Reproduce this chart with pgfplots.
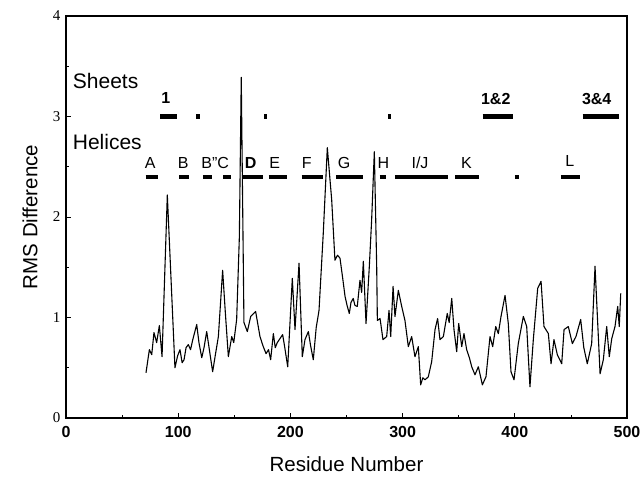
\documentclass[border=0pt]{standalone}
\usepackage{pgfplots}
\pgfplotsset{compat=1.18}
\usepackage{fontspec}
\setmainfont{Liberation Sans}
\newfontfamily\seriffont{Liberation Serif}
\begin{document}
\begin{tikzpicture}
\begin{axis}[
  scale only axis,
  width=561pt, height=402pt,
  xmin=0, xmax=500, ymin=0, ymax=4,
  axis line style={line width=1.2pt},
  xtick={0,100,200,300,400,500},
  xticklabels={0,100,200,300,400,500},
  ytick={0,1,2,3,4},
  yticklabels={0,1,2,3,4},
  minor x tick num=1, minor y tick num=1,
  tick align=inside,
  xtick pos=bottom, ytick pos=left,
  major tick length=5pt, minor tick length=3pt,
  tick style={line width=0.8pt, black},
  xticklabel style={font=\bfseries\fontsize{16}{18}\selectfont, yshift=-5pt},
  yticklabel style={font=\seriffont\fontsize{15}{17}\selectfont, xshift=-2pt},
  every axis x label/.style={at={(axis description cs:0.5,-0.115)}, anchor=center},
  every axis y label/.style={at={(axis description cs:-0.064,0.5)}, rotate=90, anchor=center},
  label style={font=\fontsize{20.5}{23}\selectfont},
  xlabel={Residue Number},
  ylabel={RMS Difference},
  clip=false,
]
% RMS curve
\addplot[black, line width=1.1pt, line join=round] coordinates {
(71.3,0.45) (74.3,0.68) (76.4,0.63) (78.4,0.85) (80.8,0.75) (83.2,0.92) (85.6,0.61)
(90.3,2.22) (97.1,0.50) (99.5,0.62) (101.6,0.68) (103.5,0.55) (105.2,0.58) (107,0.70) (109,0.73) (111,0.68) (113,0.78) (116.5,0.93)
(118.5,0.75) (121,0.60) (123,0.70) (125.4,0.86) (127.5,0.70) (130.7,0.46) (133,0.62) (135.8,0.81) (139.6,1.47) (142,1.05) (144.7,0.61) (147.7,0.81)
(149.5,0.75) (152.1,0.98) (154.5,1.80) (156.2,3.39) (158.6,0.95) (161.6,0.86) (164.6,1.01) (169,1.06)
(172.9,0.81) (175.5,0.72) (178.3,0.64) (180.5,0.68) (182.4,0.58) (184.8,0.84) (186.5,0.70) (188.3,0.75) (193.1,0.83) (195,0.70) (197.6,0.51)
(201.7,1.39) (204.1,0.88) (207.7,1.54) (210.6,0.61) (213,0.78) (216,0.86) (218,0.72) (220.4,0.58) (223,0.90) (225.5,1.07)
(229.3,1.84) (232.9,2.69) (236.8,2.17) (239.7,1.57) (242,1.62) (244.2,1.59) (246.5,1.40) (248.7,1.21)
(250.5,1.12) (252.5,1.04) (254,1.15) (256,1.19) (257.5,1.12) (259.6,1.11) (262,1.37) (263.5,1.25) (265,1.56) (267.4,0.94) (270.3,1.50)
(272.4,1.97) (274.8,2.65) (276.9,1.51) (277.5,0.97) (279.9,0.99) (282.5,0.78) (285.8,0.81)
(287.9,1.07) (289.4,0.81) (291.5,1.31) (293.2,1.01) (296.2,1.27) (299.2,1.11) (302.1,0.97)
(305.1,0.71) (308.1,0.81) (311,0.61) (314,0.71) (316.1,0.33) (318,0.40) (320,0.38) (322.9,0.41)
(325.9,0.56) (328.9,0.88) (331.2,0.99) (333.3,0.78) (336.3,0.81) (339.8,1.04) (341.5,0.95) (343.8,1.19)
(345.8,0.88) (348.2,0.66) (350,0.94) (352.7,0.71) (354.7,0.84) (357.1,0.68) (359.5,0.60) (361.6,0.51)
(364.5,0.43) (367.5,0.51) (371.1,0.33) (374.3,0.41) (377.9,0.81) (380.3,0.71) (383,0.91)
(385.3,0.84) (387.7,1.01) (391.3,1.22) (394.2,0.94) (396.6,0.46) (399.3,0.38) (403.1,0.74)
(407.6,1.01) (410.6,0.91) (413.5,0.31) (416.5,0.78) (420.4,1.29) (423.4,1.36) (426,0.91)
(429.9,0.84) (432.3,0.54) (434.9,0.78) (437.9,0.63) (441.8,0.54) (443.9,0.88) (447.7,0.91)
(451.3,0.74) (454.5,0.81) (458.7,0.98) (461.5,0.70) (464.6,0.54) (468.5,0.74) (471.5,1.51) (476,0.44)
(478.9,0.58) (481.9,0.91) (484.2,0.61) (486.4,0.79) (489.3,0.91) (491.7,1.11) (493.1,0.91)
(494.4,1.24)
};
% Helices
\addplot[black, line width=4pt, line cap=butt, unbounded coords=jump] coordinates {
(71,2.4) (82,2.4) (82,nan)
(101,2.4) (110,2.4) (110,nan)
(122,2.4) (130,2.4) (130,nan)
(140,2.4) (147,2.4) (147,nan)
(156.6,2.4) (175.3,2.4) (175.3,nan)
(180.6,2.4) (197.2,2.4) (197.2,nan)
(210,2.4) (229.3,2.4) (229.3,nan)
(240.6,2.4) (265,2.4) (265,nan)
(279.5,2.4) (285.5,2.4) (285.5,nan)
(293.2,2.4) (340.7,2.4) (340.7,nan)
(346.7,2.4) (368.4,2.4) (368.4,nan)
(400,2.4) (404,2.4) (404,nan)
(441,2.4) (458,2.4)
};
% Sheets
\addplot[black, line width=4.5pt, line cap=butt, unbounded coords=jump] coordinates {
(83.8,3.0) (99.2,3.0) (99.2,nan)
(116,3.0) (119.4,3.0) (119.4,nan)
(176.6,3.0) (179.4,3.0) (179.4,nan)
(287.3,3.0) (289.4,3.0) (289.4,nan)
(371.4,3.0) (398.7,3.0) (398.7,nan)
(460.5,3.0) (493.1,3.0)
};
\node[anchor=west, font=\fontsize{21}{24}\selectfont] at (axis cs:3,3.35) {Sheets};
\node[anchor=west, font=\fontsize{21}{24}\selectfont] at (axis cs:3,2.75) {Helices};
\begin{scope}[every node/.style={font=\bfseries\fontsize{16}{18}\selectfont}]
\node at (axis cs:89,3.18) {1};
\node at (axis cs:383,3.17) {1\&2};
\node at (axis cs:473,3.17) {3\&4};
\end{scope}
\begin{scope}[every node/.style={font=\fontsize{16}{18}\selectfont}]
\node at (axis cs:75,2.54) {A};
\node at (axis cs:104.5,2.54) {B};
\node at (axis cs:133,2.54) {B"C};
\node[font=\bfseries\fontsize{16}{18}\selectfont] at (axis cs:164.6,2.54) {D};
\node at (axis cs:186,2.54) {E};
\node at (axis cs:214.5,2.54) {F};
\node at (axis cs:247.8,2.54) {G};
\node at (axis cs:282.8,2.54) {H};
\node at (axis cs:315.5,2.54) {I/J};
\node at (axis cs:357,2.54) {K};
\node at (axis cs:449,2.56) {L};
\end{scope}
\end{axis}
\pgfresetboundingbox
\path ([shift={(-66pt,-60pt)}]current axis.south west) rectangle ([shift={(16pt,16pt)}]current axis.north east);
\end{tikzpicture}
\end{document}
